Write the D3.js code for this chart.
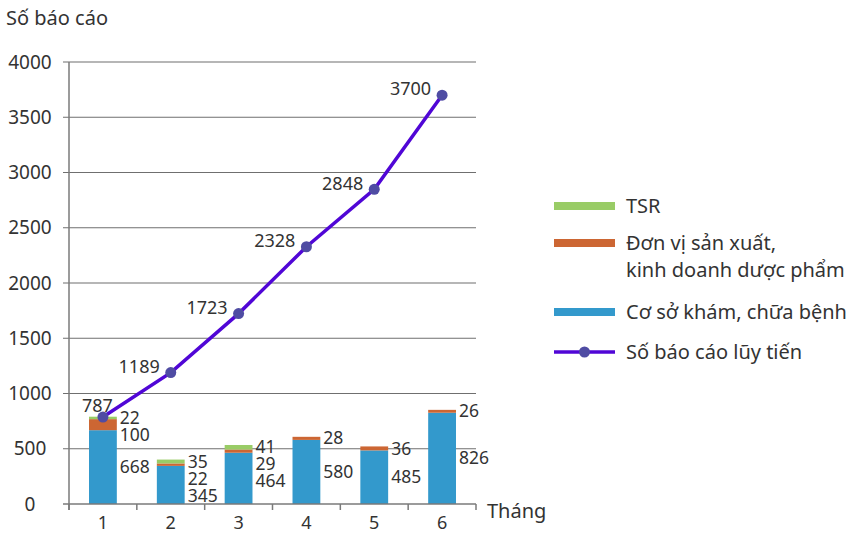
<!DOCTYPE html>
<html>
<head>
<meta charset="utf-8">
<script src="https://cdn.jsdelivr.net/npm/d3@7"></script>
<style>
  body { margin: 0; background: #fff; }
  svg { font-family: "Noto Sans", "Open Sans", sans-serif; fill: #333; }
</style>
</head>
<body>
<svg id="chart" width="849" height="534"></svg>
<script>
const months = ['1', '2', '3', '4', '5', '6'];
const coSoKham = [668, 345, 464, 580, 485, 826];
const donViSanXuat = [100, 22, 29, 28, 36, 26];
const tsr = [22, 35, 41, 0, 0, 0];
const luyTien = [787, 1189, 1723, 2328, 2848, 3700];
const yTicks = [0, 500, 1000, 1500, 2000, 2500, 3000, 3500, 4000];

const colors = ['#3399cc', '#cc6633', '#99cc66'];
const lineColor = '#5006d6';
const markerColor = '#4f4ca3';

const svg = d3.select('#chart');

const x = d3.scaleBand().domain(months).range([69, 476]);
const y = d3.scaleLinear().domain([0, 4000]).range([504, 62]);
const barW = x.bandwidth() * 0.41;

// gridlines
svg.append('g')
  .selectAll('line')
  .data(yTicks.filter(d => d > 0))
  .join('line')
  .attr('x1', 63).attr('x2', 476)
  .attr('y1', d => y(d)).attr('y2', d => y(d))
  .attr('stroke', '#6f6f6f').attr('stroke-width', 1.2);

// y axis labels
svg.append('g')
  .selectAll('text')
  .data(yTicks)
  .join('text')
  .attr('x', 30).attr('y', d => y(d))
  .attr('dy', '0.35em')
  .attr('text-anchor', 'middle')
  .attr('font-size', 19)
  .text(d => d);

// stacked data
const table = months.map((m, i) => ({ month: m, s0: coSoKham[i], s1: donViSanXuat[i], s2: tsr[i] }));
const stack = d3.stack().keys(['s0', 's1', 's2'])(table);

svg.append('g')
  .selectAll('g')
  .data(stack)
  .join('g')
  .attr('fill', (d, i) => colors[i])
  .selectAll('rect')
  .data(d => d)
  .join('rect')
  .attr('x', d => x(d.data.month) + (x.bandwidth() - barW) / 2)
  .attr('width', barW)
  .attr('y', d => y(d[1]))
  .attr('height', d => y(d[0]) - y(d[1]));

// bar labels: to the right of the bar, top-down, pushed apart
const labelGap = 17;
months.forEach((m, i) => {
  const segs = [];
  for (let k = 2; k >= 0; k--) {
    const s = stack[k][i];
    const v = s[1] - s[0];
    if (v > 0) segs.push({ v, mid: (y(s[0]) + y(s[1])) / 2 });
  }
  let prev = -Infinity;
  segs.forEach(s => {
    const yy = Math.max(s.mid, prev + labelGap);
    prev = yy;
    svg.append('text')
      .attr('x', x(m) + (x.bandwidth() + barW) / 2 + 3)
      .attr('y', yy)
      .attr('dy', '0.35em')
      .attr('font-size', 17.5)
      .text(s.v);
  });
});

// axis line + ticks
svg.append('line')
  .attr('x1', 63).attr('x2', 476).attr('y1', y(0)).attr('y2', y(0))
  .attr('stroke', '#7a7a7a').attr('stroke-width', 1.5);
svg.append('line')
  .attr('x1', 69).attr('x2', 69).attr('y1', y(4000)).attr('y2', y(0) + 6)
  .attr('stroke', '#7a7a7a').attr('stroke-width', 1.5);
svg.append('g')
  .selectAll('line')
  .data(d3.range(months.length + 1))
  .join('line')
  .attr('x1', i => 69 + i * x.step()).attr('x2', i => 69 + i * x.step())
  .attr('y1', y(0)).attr('y2', y(0) + 6)
  .attr('stroke', '#7a7a7a').attr('stroke-width', 1.5);

svg.append('g')
  .selectAll('text')
  .data(months)
  .join('text')
  .attr('x', d => x(d) + x.bandwidth() / 2)
  .attr('y', 528.5)
  .attr('text-anchor', 'middle')
  .attr('font-size', 18)
  .text(d => d);

svg.append('text').attr('x', 487).attr('y', 511).attr('dy', '0.35em')
  .attr('font-size', 20).text('Tháng');
svg.append('text').attr('x', 6).attr('y', 18).attr('dy', '0.35em')
  .attr('font-size', 20).text('Số báo cáo');

// cumulative line
const pts = months.map((m, i) => [x(m) + x.bandwidth() / 2, y(luyTien[i])]);
svg.append('path')
  .attr('d', d3.line()(pts))
  .attr('fill', 'none')
  .attr('stroke', lineColor)
  .attr('stroke-width', 3.5);
svg.append('g')
  .selectAll('circle')
  .data(pts)
  .join('circle')
  .attr('cx', d => d[0]).attr('cy', d => d[1]).attr('r', 5.5)
  .attr('fill', markerColor);

pts.forEach((p, i) => {
  const t = svg.append('text')
    .attr('x', p[0] - 11).attr('y', p[1] - 6)
    .attr('dy', '0.35em')
    .attr('text-anchor', 'end')
    .attr('font-size', 18)
    .text(luyTien[i]);
  const bb = t.node().getBBox();
  // keep clear of the y axis
  if (bb.x < 80) {
    t.attr('text-anchor', 'start').attr('x', 82).attr('y', p[1] - 11);
  }
});

// legend
const legend = [
  { name: ['TSR'], color: colors[2], y: 206 },
  { name: ['Đơn vị sản xuất,', 'kinh doanh dược phẩm'], color: colors[1], y: 243 },
  { name: ['Cơ sở khám, chữa bệnh'], color: colors[0], y: 312 },
  { name: ['Số báo cáo lũy tiến'], color: lineColor, y: 352, line: true }
];
legend.forEach(l => {
  svg.append('line')
    .attr('x1', 554).attr('x2', 615).attr('y1', l.y).attr('y2', l.y)
    .attr('stroke', l.color).attr('stroke-width', l.line ? 3.5 : 8);
  if (l.line) {
    svg.append('circle').attr('cx', 584.5).attr('cy', l.y).attr('r', 5.5).attr('fill', markerColor);
  }
  l.name.forEach((n, j) => {
    svg.append('text')
      .attr('x', 626).attr('y', l.y + j * 27)
      .attr('dy', '0.35em')
      .attr('font-size', 20)
      .text(n);
  });
});
</script>
</body>
</html>
